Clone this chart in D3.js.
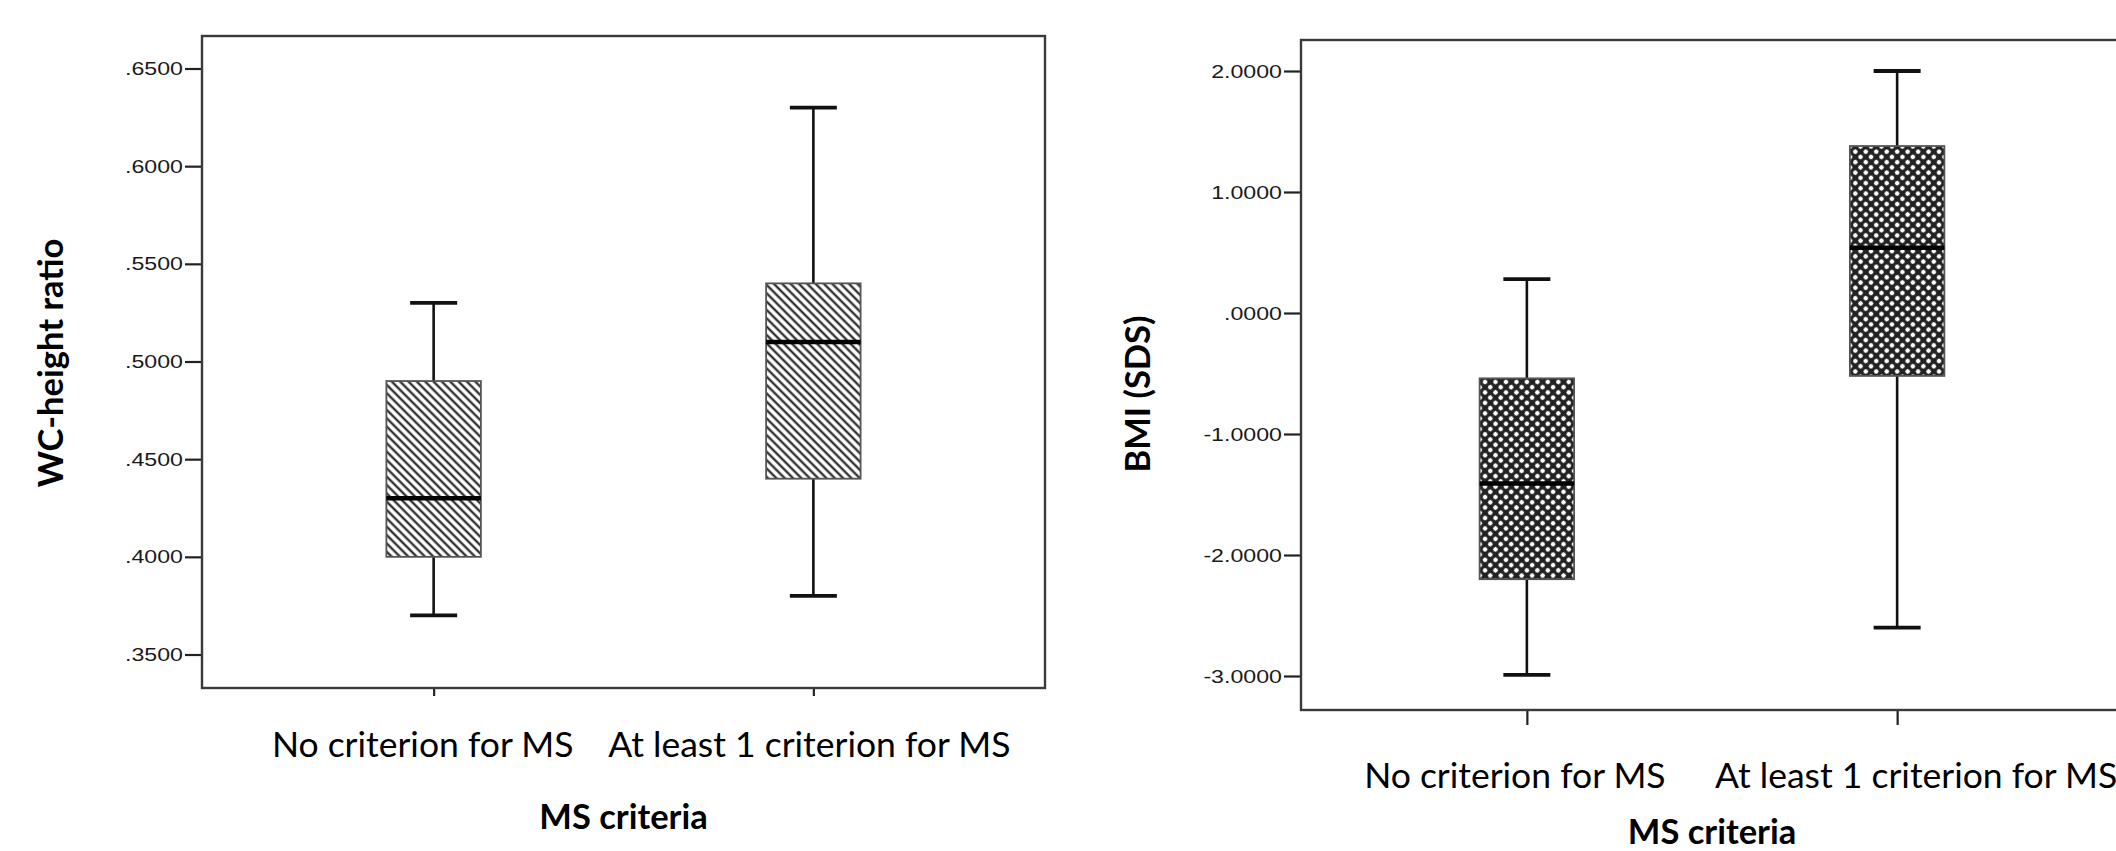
<!DOCTYPE html>
<html>
<head>
<meta charset="utf-8">
<script src="https://cdn.jsdelivr.net/npm/d3@7"></script>
<style>
  body { margin: 0; background: #fff; }
  svg { display: block; }
  .cat { font-family: Lato, "Open Sans", sans-serif; font-size: 35.5px; fill: #000; }
  .title { font-family: Lato, "Open Sans", sans-serif; font-weight: 700; font-size: 34.5px; fill: #000; }
  .tick text { font-family: "Liberation Sans", Arial, sans-serif; font-size: 19px; fill: #1a1a1a; }
</style>
</head>
<body>
<div id="chart"></div>
<script>
const groups = ["No criterion for MS", "At least 1 criterion for MS"];

// WC-height ratio (left panel): lower whisker, Q1, median, Q3, upper whisker
const wcLow = [0.37, 0.38];
const wcQ1 = [0.40, 0.44];
const wcMedian = [0.43, 0.51];
const wcQ3 = [0.49, 0.54];
const wcHigh = [0.53, 0.63];
const wcTicks = [0.35, 0.40, 0.45, 0.50, 0.55, 0.60, 0.65];

// BMI (SDS) (right panel)
const bmiLow = [-2.99, -2.60];
const bmiQ1 = [-2.20, -0.52];
const bmiMedian = [-1.41, 0.54];
const bmiQ3 = [-0.54, 1.38];
const bmiHigh = [0.28, 2.00];
const bmiTicks = [-3, -2, -1, 0, 1, 2];

const W = 2116, H = 851;
const svg = d3.select("#chart").append("svg")
    .attr("width", W)
    .attr("height", H);

const defs = svg.append("defs");

// diagonal "\" hatching
const hatch = defs.append("pattern")
    .attr("id", "hatch")
    .attr("patternUnits", "userSpaceOnUse")
    .attr("width", 5.9).attr("height", 5.9)
    .attr("patternTransform", "rotate(-45)");
hatch.append("rect").attr("width", 5.9).attr("height", 5.9).attr("fill", "#fff");
hatch.append("line")
    .attr("x1", 1.5).attr("x2", 1.5).attr("y1", 0).attr("y2", 5.9)
    .attr("stroke", "#1a1a1a").attr("stroke-width", 2.1);

// dense crosshatch with white dots
const cross = defs.append("pattern")
    .attr("id", "cross")
    .attr("patternUnits", "userSpaceOnUse")
    .attr("width", 7.4).attr("height", 7.4)
    .attr("patternTransform", "rotate(45)");
cross.append("rect").attr("width", 7.4).attr("height", 7.4).attr("fill", "#222");
cross.append("circle").attr("cx", 3.7).attr("cy", 3.7).attr("r", 2.3).attr("fill", "#fff");

// SPSS style: 4 decimals, no leading zero, plain hyphen for minus
const fmt = v => d3.format(".4f")(v).replace("\u2212", "-").replace(/^(-?)0\./, "$1.");

function drawPanel(p) {
    const g = svg.append("g");

    const x = d3.scalePoint()
        .domain(groups)
        .range([p.x0, p.x1])
        .padding(0.61);

    const y = d3.scaleLinear()
        .domain(p.domain)
        .range(p.range);

    // y axis
    const yAxis = g.append("g")
        .attr("transform", `translate(${p.x0},0)`)
        .call(d3.axisLeft(y).tickValues(p.ticks).tickSize(p.yTick).tickFormat(fmt));
    yAxis.select(".domain").remove();
    yAxis.selectAll(".tick line").attr("stroke", "#222").attr("stroke-width", 2.2);
    yAxis.selectAll(".tick text")
        .attr("transform", "scale(1.22,1)")
        .attr("x", -(p.yTick + 2) / 1.22);

    // x axis ticks
    const xAxis = g.append("g")
        .attr("transform", `translate(0,${p.y1})`)
        .call(d3.axisBottom(x).tickSize(p.xTick).tickFormat(""));
    xAxis.select(".domain").remove();
    xAxis.selectAll(".tick line").attr("stroke", "#222").attr("stroke-width", 2.2);

    const bw = 94.5, cw = 47;
    const boxes = g.selectAll(".box")
        .data(groups.map((k, i) => ({
            k, lo: p.low[i], q1: p.q1[i], med: p.med[i], q3: p.q3[i], hi: p.high[i], dx: p.labelDx[i]
        })))
        .join("g")
        .attr("class", "box")
        .attr("transform", d => `translate(${x(d.k)},0)`);

    // whiskers
    boxes.append("line")
        .attr("y1", d => y(d.hi)).attr("y2", d => y(d.q3))
        .attr("stroke", "#111").attr("stroke-width", 2.6);
    boxes.append("line")
        .attr("y1", d => y(d.q1)).attr("y2", d => y(d.lo))
        .attr("stroke", "#111").attr("stroke-width", 2.6);
    boxes.append("line")
        .attr("x1", -cw / 2).attr("x2", cw / 2)
        .attr("y1", d => y(d.hi)).attr("y2", d => y(d.hi))
        .attr("stroke", "#111").attr("stroke-width", 3.8);
    boxes.append("line")
        .attr("x1", -cw / 2).attr("x2", cw / 2)
        .attr("y1", d => y(d.lo)).attr("y2", d => y(d.lo))
        .attr("stroke", "#111").attr("stroke-width", 3.8);

    // box
    boxes.append("rect")
        .attr("x", -bw / 2).attr("width", bw)
        .attr("y", d => y(d.q3))
        .attr("height", d => y(d.q1) - y(d.q3))
        .attr("fill", `url(#${p.pattern})`)
        .attr("stroke", "#555").attr("stroke-width", 1.8);

    // median
    boxes.append("line")
        .attr("x1", -bw / 2).attr("x2", bw / 2)
        .attr("y1", d => y(d.med)).attr("y2", d => y(d.med))
        .attr("stroke", "#000").attr("stroke-width", 4.5);

    // category labels
    boxes.append("text")
        .attr("class", "cat")
        .attr("text-anchor", "middle")
        .attr("x", d => d.dx)
        .attr("y", p.labelY)
        .text(d => d.k);

    // frame
    g.append("rect")
        .attr("x", p.x0).attr("y", p.y0)
        .attr("width", p.x1 - p.x0).attr("height", p.y1 - p.y0)
        .attr("fill", "none")
        .attr("stroke", "#3a3a3a").attr("stroke-width", 2.4);

    // titles
    g.append("text")
        .attr("class", "title")
        .attr("text-anchor", "middle")
        .attr("x", (p.x0 + p.x1) / 2)
        .attr("y", p.xTitleY)
        .text("MS criteria");

    g.append("text")
        .attr("class", "title")
        .attr("text-anchor", "middle")
        .attr("transform", `translate(${p.yTitleX},${p.yTitleY}) rotate(-90)`)
        .text(p.yTitle);
}

drawPanel({
    x0: 202, x1: 1045, y0: 36, y1: 688,
    domain: [0.35, 0.65], range: [654.5, 68.5],
    ticks: wcTicks, yTick: 17, xTick: 8,
    low: wcLow, q1: wcQ1, med: wcMedian, q3: wcQ3, high: wcHigh,
    pattern: "hatch",
    labelDx: [-11, -4], labelY: 757,
    xTitleY: 829,
    yTitle: "WC-height ratio", yTitleX: 63, yTitleY: 363
});

drawPanel({
    x0: 1301, x1: 2123, y0: 40, y1: 710,
    domain: [-3, 2], range: [676, 71],
    ticks: bmiTicks, yTick: 17, xTick: 15,
    low: bmiLow, q1: bmiQ1, med: bmiMedian, q3: bmiQ3, high: bmiHigh,
    pattern: "cross",
    labelDx: [-12, 19], labelY: 788,
    xTitleY: 844,
    yTitle: "BMI (SDS)", yTitleX: 1150, yTitleY: 394
});
</script>
</body>
</html>
